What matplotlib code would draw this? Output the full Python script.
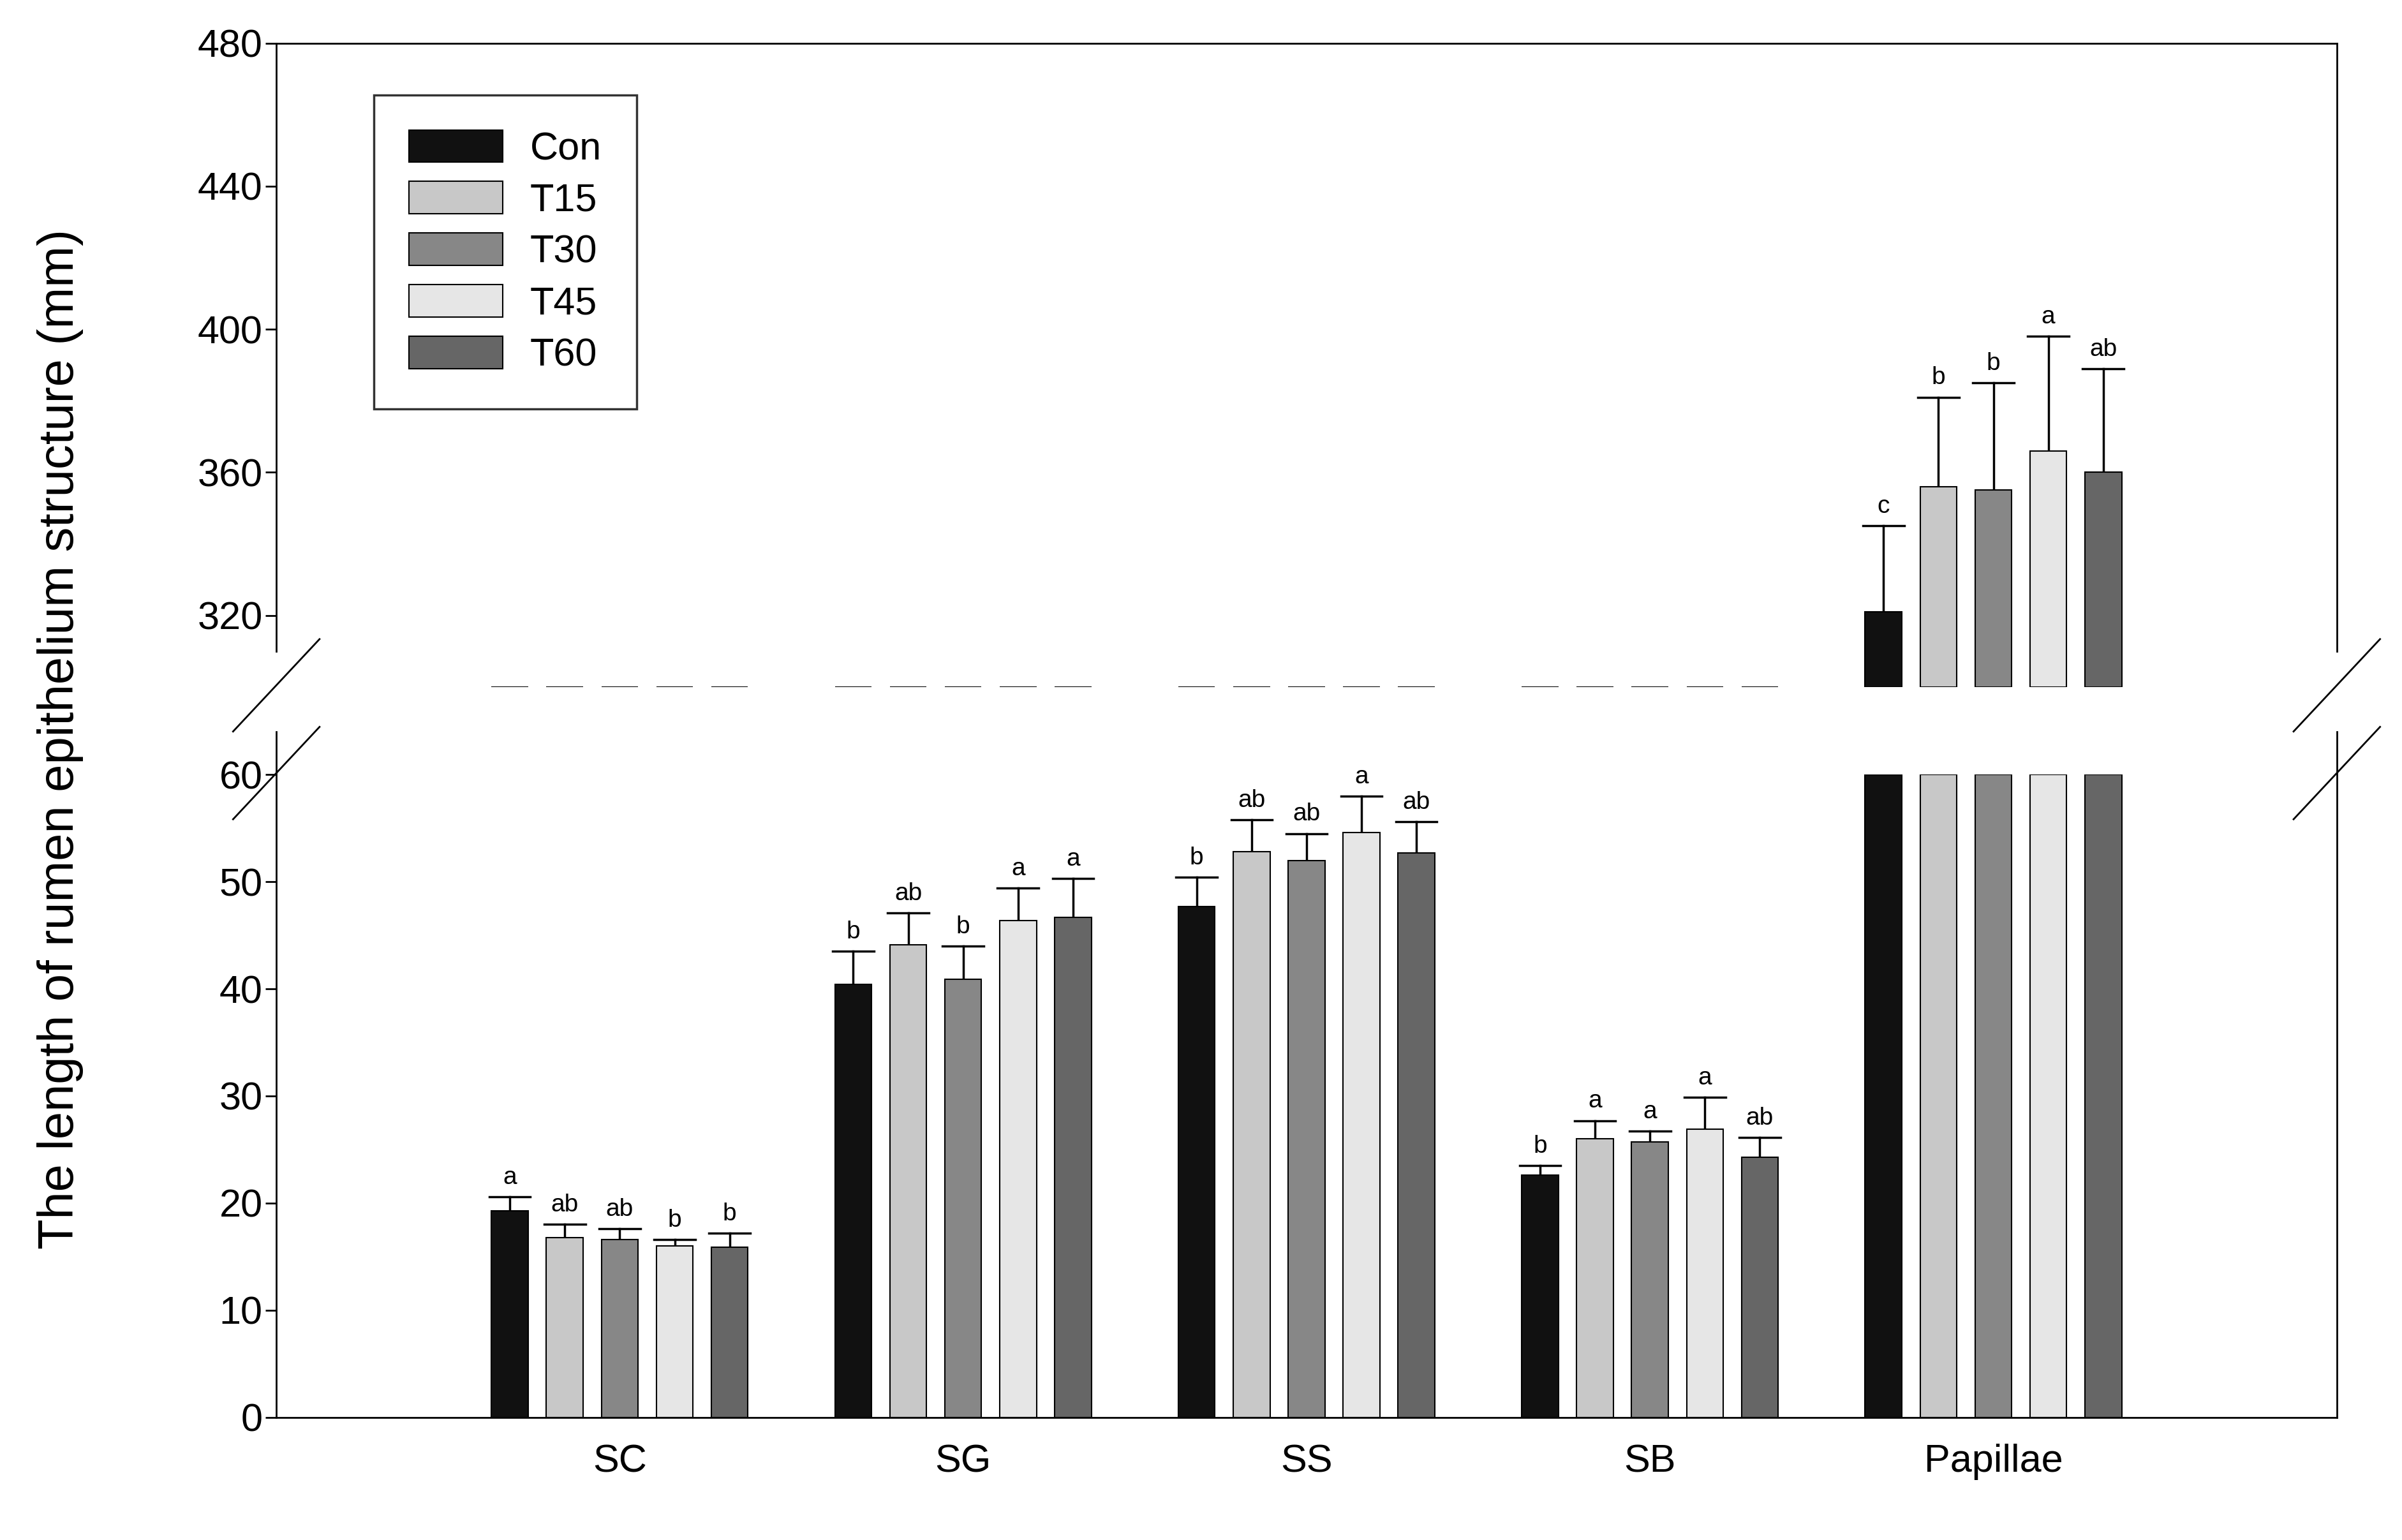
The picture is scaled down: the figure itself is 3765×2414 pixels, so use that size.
import matplotlib
matplotlib.use("Agg")
import matplotlib.pyplot as plt
import numpy as np

plt.rcParams['font.family'] = ['Liberation Sans', 'DejaVu Sans']

groups = ["SC", "SG", "SS", "SB", "Papillae"]
series = ["Con", "T15", "T30", "T45", "T60"]
colors = ["#111111", "#c8c8c8", "#878787", "#e6e6e6", "#666666"]
means = {
    "Con": [19.3, 40.4, 47.7, 22.6, 321],
    "T15": [16.8, 44.1, 52.8, 26.0, 356],
    "T30": [16.6, 40.9, 52.0, 25.7, 355],
    "T45": [16.0, 46.4, 54.6, 26.9, 366],
    "T60": [15.9, 46.7, 52.7, 24.3, 360],
}
tops = {
    "Con": [20.6, 43.5, 50.4, 23.5, 345],
    "T15": [18.0, 47.1, 55.8, 27.7, 381],
    "T30": [17.6, 44.0, 54.5, 26.7, 385],
    "T45": [16.6, 49.4, 58.0, 29.9, 398],
    "T60": [17.2, 50.3, 55.6, 26.1, 389],
}
letters = {
    "Con": ["a", "b", "b", "b", "c"],
    "T15": ["ab", "ab", "ab", "a", "b"],
    "T30": ["ab", "b", "ab", "a", "b"],
    "T45": ["b", "a", "a", "a", "a"],
    "T60": ["b", "a", "ab", "ab", "ab"],
}

W, H = 3766, 2414
fig = plt.figure(figsize=(W/100, H/100), dpi=100)
L, R = 0.115, 0.9726
axb = fig.add_axes([L, 0.0797, R-L, 0.497-0.0797])
axt = fig.add_axes([L, 0.554, R-L, 0.972-0.554])

x = np.arange(len(groups))
step, bw = 0.16, 0.107
for ax, (lo, hi) in [(axb, (0, 60)), (axt, (300, 480))]:
    for i, s in enumerate(series):
        xs = x + (i-2)*step
        m = np.array(means[s], float)
        t = np.array(tops[s], float)
        ax.bar(xs, np.clip(m, lo, hi) - lo, bottom=lo, width=bw, color=colors[i],
               edgecolor="black", linewidth=1.5, label=s, zorder=2)
        for xi, mi, ti, lab in zip(xs, m, t, letters[s]):
            if lo <= ti <= hi:
                ax.plot([xi, xi], [mi, ti], color="black", lw=2.5, zorder=1)
                ax.plot([xi-0.06, xi+0.06], [ti, ti], color="black", lw=2.5)
                ax.text(xi, ti + (hi-lo)*0.012, lab, ha="center", va="bottom", fontsize=28)
    ax.set_ylim(lo, hi)
    ax.set_xlim(-1, 5)
    ax.tick_params(axis='y', labelsize=44, length=12, width=2, direction='out', right=False)
    ax.tick_params(axis='x', length=0, labelsize=44, pad=30)
    for sp in ax.spines.values():
        sp.set_linewidth(2)

axb.set_yticks([0, 10, 20, 30, 40, 50, 60])
axb.set_xticks(x)
axb.set_xticklabels(groups)
axb.spines['top'].set_visible(False)
axt.set_yticks([320, 360, 400, 440, 480])
axt.set_xticks([])
axt.spines['bottom'].set_visible(False)
# shorten spines near break
axt.spines['left'].set_bounds(310, 480)
axt.spines['right'].set_bounds(310, 480)
axb.spines['left'].set_bounds(0, 64)
axb.spines['right'].set_bounds(0, 64)
axt.spines['left'].set_position(('data', -1))

# break marks
d = dict(transform=fig.transFigure, color="black", lw=2, clip_on=False)
for xf in (L, R):
    for yc in (0.555, 0.498):
        fig.add_artist(plt.Line2D([xf-0.018, xf+0.018], [yc-0.03, yc+0.03], **d))

fig.text(0.025, 0.52, "The length of rumen epithelium structure (mm)", rotation=90,
         ha="center", va="center", fontsize=56)

leg = axt.legend(loc="upper left", bbox_to_anchor=(0.038, 0.95), fontsize=44, frameon=True,
                 fancybox=False, edgecolor="black", handlelength=2.4, handleheight=0.9,
                 labelspacing=0.35, borderpad=0.9, handletextpad=0.7)
leg.get_frame().set_linewidth(2.5)

fig.savefig("out.png", dpi=100)
